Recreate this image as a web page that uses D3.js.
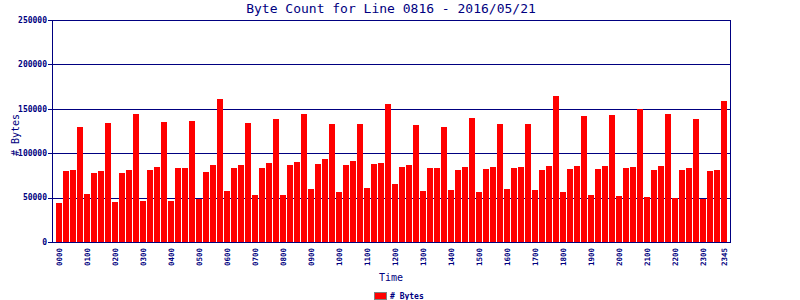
<!DOCTYPE html>
<html>
<head>
<meta charset="utf-8">
<script src="https://cdn.jsdelivr.net/npm/d3@7"></script>
<style>
  body { margin: 0; background: #fff; }
  svg { display: block; }
  text { font-family: "DejaVu Sans Mono", monospace; fill: #000080; }
</style>
</head>
<body>
<div id="chart"></div>
<script>
// 15-minute slots, 2016/05/21
var times = [
  "0000","0015","0030","0045","0100","0115","0130","0145","0200","0215","0230","0245",
  "0300","0315","0330","0345","0400","0415","0430","0445","0500","0515","0530","0545",
  "0600","0615","0630","0645","0700","0715","0730","0745","0800","0815","0830","0845",
  "0900","0915","0930","0945","1000","1015","1030","1045","1100","1115","1130","1145",
  "1200","1215","1230","1245","1300","1315","1330","1345","1400","1415","1430","1445",
  "1500","1515","1530","1545","1600","1615","1630","1645","1700","1715","1730","1745",
  "1800","1815","1830","1845","1900","1915","1930","1945","2000","2015","2030","2045",
  "2100","2115","2130","2145","2200","2215","2230","2245","2300","2315","2330","2345"
];
var bytes = [
  44200, 80100, 81300, 129600, 54300, 77900, 80100, 134000, 45300, 77900, 81300, 144200,
  46400, 81300, 84600, 135200, 46400, 83500, 83500, 136300, 48700, 79000, 86900, 161000,
  57700, 83500, 86900, 134000, 53200, 83500, 89100, 138600, 53200, 86900, 90300, 144200,
  59900, 88000, 93600, 132900, 56500, 86900, 91400, 132900, 61000, 88000, 89100, 155400,
  65500, 84600, 86900, 131800, 57700, 83500, 83500, 129600, 58800, 81300, 84600, 139700,
  56500, 82400, 84600, 132900, 59900, 83500, 84600, 132900, 58800, 81300, 85800, 164400,
  56500, 82400, 85800, 141900, 53200, 82400, 85800, 143100, 52100, 83500, 84600, 149800,
  50900, 81300, 85800, 144200, 49800, 81300, 83500, 138600, 48700, 80100, 81300, 158800
];
var xTickLabels = ["0000","0100","0200","0300","0400","0500","0600","0700","0800","0900",
  "1000","1100","1200","1300","1400","1500","1600","1700","1800","1900","2000","2100",
  "2200","2300","2345"];
var yTicks = [0, 50000, 100000, 150000, 200000, 250000];

var W = 800, H = 300;
var plotLeft = 52, plotRight = 730, plotTop = 20, plotBottom = 242;
var navy = "#000080";

var svg = d3.select("#chart").append("svg")
    .attr("width", W)
    .attr("height", H);

var x = d3.scaleBand().domain(times).range([56, 727]).paddingInner(1 / 7).paddingOuter(0);
var y = d3.scaleLinear().domain([0, 250000]).range([plotBottom, plotTop]);

function py(v) { return Math.round(y(v)) + 0.5; }

// grid + tick marks
svg.selectAll("line.grid")
  .data(yTicks)
  .enter().append("line")
  .attr("class", "grid")
  .attr("x1", plotLeft - 4)
  .attr("x2", plotRight)
  .attr("y1", function (d) { return py(d); })
  .attr("y2", function (d) { return py(d); })
  .attr("stroke", navy)
  .attr("shape-rendering", "crispEdges");

// bars
svg.selectAll("rect.bar")
  .data(bytes)
  .enter().append("rect")
  .attr("class", "bar")
  .attr("x", function (d, i) { return x(times[i]); })
  .attr("y", function (d) { return y(d); })
  .attr("width", x.bandwidth())
  .attr("height", function (d) { return plotBottom - y(d); })
  .attr("fill", "#ff0000")
  .attr("shape-rendering", "crispEdges");

// frame
svg.append("line").attr("x1", plotLeft + 0.5).attr("x2", plotLeft + 0.5).attr("y1", plotTop).attr("y2", plotBottom + 1)
  .attr("stroke", navy).attr("shape-rendering", "crispEdges");
svg.append("line").attr("x1", plotRight + 0.5).attr("x2", plotRight + 0.5).attr("y1", plotTop).attr("y2", plotBottom + 1)
  .attr("stroke", navy).attr("shape-rendering", "crispEdges");
svg.append("line").attr("x1", plotLeft).attr("x2", plotRight + 1).attr("y1", plotBottom + 0.5).attr("y2", plotBottom + 0.5)
  .attr("stroke", navy).attr("shape-rendering", "crispEdges");

// y tick labels
svg.selectAll("text.ytick")
  .data(yTicks)
  .enter().append("text")
  .attr("class", "ytick")
  .attr("x", 47)
  .attr("y", function (d) { return y(d); })
  .attr("dy", "0.35em")
  .attr("text-anchor", "end")
  .style("font-size", "8px")
  .style("font-weight", "bold")
  .text(function (d) { return d; });

// x tick labels
svg.selectAll("text.xtick")
  .data(xTickLabels)
  .enter().append("text")
  .attr("class", "xtick")
  .attr("transform", function (d) {
    return "translate(" + (x(d) + x.bandwidth() / 2) + "," + 248 + ") rotate(-90)";
  })
  .attr("dy", "0.35em")
  .attr("text-anchor", "end")
  .style("font-size", "7.5px")
  .style("font-weight", "bold")
  .text(function (d) { return d; });

// titles
svg.append("text")
  .attr("x", (plotLeft + plotRight) / 2)
  .attr("y", 13)
  .attr("text-anchor", "middle")
  .style("font-size", "13px")
  .text("Byte Count for Line 0816 - 2016/05/21");

svg.append("text")
  .attr("x", (plotLeft + plotRight) / 2)
  .attr("y", 281)
  .attr("text-anchor", "middle")
  .style("font-size", "10px")
  .text("Time");

svg.append("text")
  .attr("transform", "translate(15.5,135) rotate(-90)")
  .attr("dy", "0.35em")
  .attr("text-anchor", "middle")
  .style("font-size", "10px")
  .text("# Bytes");

// legend
svg.append("rect")
  .attr("x", 374.5).attr("y", 292.5)
  .attr("width", 12).attr("height", 7)
  .attr("fill", "#ff0000")
  .attr("stroke", "#808080");
svg.append("text")
  .attr("x", 390)
  .attr("y", 298.5)
  .style("font-size", "8px")
  .style("font-weight", "bold")
  .text("# Bytes");
</script>
</body>
</html>
